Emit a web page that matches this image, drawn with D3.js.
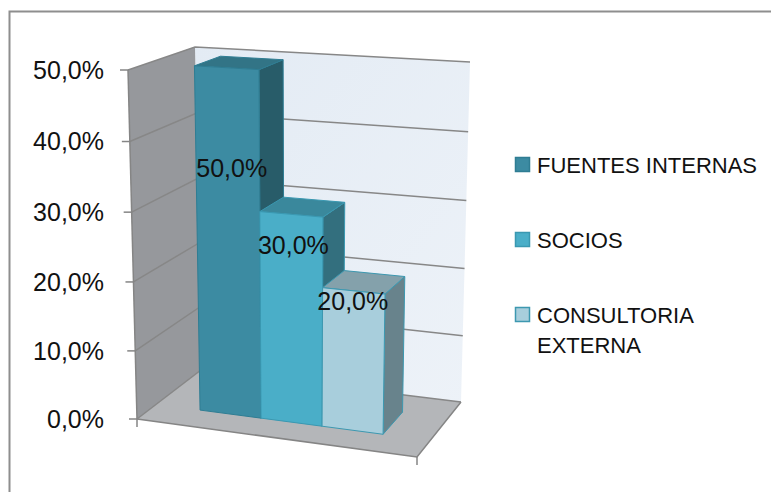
<!DOCTYPE html>
<html>
<head>
<meta charset="utf-8">
<script src="https://cdn.jsdelivr.net/npm/d3@7"></script>
<style>
  html, body { margin: 0; padding: 0; background: #ffffff; }
  svg { display: block; }
  text { font-family: "Liberation Sans", Arial, sans-serif; fill: #111; }
</style>
</head>
<body>
<svg id="chart" width="771" height="492"></svg>
<script>
// ---- data ----
const series = ["FUENTES INTERNAS", "SOCIOS", "CONSULTORIA EXTERNA"];
const values = [0.5, 0.3, 0.2];
const tickValues = [0, 0.1, 0.2, 0.3, 0.4, 0.5];

// ---- styling ----
const palette = {
  front:   ["#3c8ba2", "#4aaec8", "#a8cedc"],
  top:     ["#327486", "#3a889c", "#84a1ab"],
  side:    ["#285c69", "#336f7e", "#68838c"],
  outline: ["#2f7d93", "#3a98b1", "#3d98b0"]
};
// pixel nudges for the value labels, relative to the top-front centre of each bar
const labelNudge = [[5, 101], [2, 31], [-1, 10]];

const es = d3.formatLocale({ decimal: ",", thousands: ".", grouping: [3], currency: ["", " €"] });
const pct = es.format(".1%");

const svg = d3.select("#chart");

// Outer frame
svg.append("rect")
  .attr("x", 9.5).attr("y", 11.5).attr("width", 800).attr("height", 520)
  .attr("fill", "none").attr("stroke", "#8e8e8e").attr("stroke-width", 2);

// ---- 3D plot cube projection ----
// screen corners of the cube: f/b = front/back, l/r = left/right, b/t = bottom/top
const corner = {
  flb: [137, 419], frb: [417, 457], blb: [201, 370], brb: [461, 402],
  flt: [128, 70],  frt: [424, 88],  blt: [195, 47],  brt: [470, 62]
};
const lerp = (a, b, t) => [a[0] + (b[0] - a[0]) * t, a[1] + (b[1] - a[1]) * t];
const bilerp = (fl, fr, bl, br, u, v) => lerp(lerp(fl, fr, u), lerp(bl, br, u), v);
const persp = 0.97;
const heightWarp = w => persp * w / (1 + (persp - 1) * w);
function project(u, v, w) {
  const bottom = bilerp(corner.flb, corner.frb, corner.blb, corner.brb, u, v);
  const top = bilerp(corner.flt, corner.frt, corner.blt, corner.brt, u, v);
  return lerp(bottom, top, heightWarp(w));
}
const poly = pts => "M" + pts.map(p => project(...p).map(n => n.toFixed(2)).join(",")).join("L") + "Z";
const line = pts => "M" + pts.map(p => project(...p).map(n => n.toFixed(2)).join(",")).join("L");

// scales: series -> horizontal cube coordinate, value -> vertical cube coordinate
const x = d3.scaleBand().domain(series).range([0.16, 0.828]).padding(0);
const y = d3.scaleLinear().domain([0, 0.5]).range([0, 1]);
const depth = [0.3, 0.71];

// ---- walls ----
const defs = svg.append("defs");
const bg = defs.append("linearGradient").attr("id", "backWall")
  .attr("x1", "0").attr("y1", "0").attr("x2", "1").attr("y2", "1");
bg.append("stop").attr("offset", "0").attr("stop-color", "#e3ebf4");
bg.append("stop").attr("offset", "1").attr("stop-color", "#edf2f8");

svg.append("path").attr("d", poly([[0, 1, 0], [1, 1, 0], [1, 1, 1], [0, 1, 1]]))
  .attr("fill", "url(#backWall)");
svg.append("path").attr("d", poly([[0, 0, 0], [0, 1, 0], [0, 1, 1], [0, 0, 1]]))
  .attr("fill", "#96989c");
svg.append("path").attr("d", poly([[0, 0, 0], [1, 0, 0], [1, 1, 0], [0, 1, 0]]))
  .attr("fill", "#b4b6b9");

// gridlines across side and back walls
svg.append("g").selectAll("path").data(tickValues).join("path")
  .attr("d", t => line([[0, 0, y(t)], [0, 1, y(t)], [1, 1, y(t)]]))
  .attr("fill", "none").attr("stroke", "#878787").attr("stroke-width", 1.5);

// floor front and right edges (category axis)
svg.append("path").attr("d", line([[0, 0, 0], [1, 0, 0], [1, 1, 0]]))
  .attr("fill", "none").attr("stroke", "#858585").attr("stroke-width", 1.5);
// category axis end ticks
[0, 1].forEach(u => {
  const p = project(u, 0, 0);
  svg.append("line").attr("x1", p[0]).attr("y1", p[1]).attr("x2", p[0]).attr("y2", p[1] + 8)
    .attr("stroke", "#858585").attr("stroke-width", 1.5);
});

// value axis
svg.append("path").attr("d", line([[0, 0, 0], [0, 0, 1]]))
  .attr("fill", "none").attr("stroke", "#858585").attr("stroke-width", 1.5);
const ticks = svg.append("g");
tickValues.forEach(t => {
  const p = project(0, 0, y(t));
  ticks.append("line").attr("x1", p[0] - 8).attr("x2", p[0]).attr("y1", p[1]).attr("y2", p[1])
    .attr("stroke", "#858585").attr("stroke-width", 1.5);
  ticks.append("text").attr("x", 104).attr("y", p[1]).attr("dy", "0.35em")
    .attr("text-anchor", "end").attr("font-size", 25).text(pct(t));
});

// ---- bars ----
const bars = svg.append("g");
series.forEach((s, i) => {
  const u0 = x(s), u1 = x(s) + x.bandwidth();
  const w = y(values[i]);
  const [v0, v1] = depth;
  const g = bars.append("g").attr("stroke", palette.outline[i]).attr("stroke-width", 1).attr("stroke-linejoin", "round");
  g.append("path").attr("d", poly([[u1, v0, 0], [u1, v1, 0], [u1, v1, w], [u1, v0, w]])).attr("fill", palette.side[i]);
  g.append("path").attr("d", poly([[u0, v0, w], [u1, v0, w], [u1, v1, w], [u0, v1, w]])).attr("fill", palette.top[i]);
  g.append("path").attr("d", poly([[u0, v0, 0], [u1, v0, 0], [u1, v0, w], [u0, v0, w]])).attr("fill", palette.front[i]);
});

// value labels
series.forEach((s, i) => {
  const p = project(x(s) + x.bandwidth() / 2, depth[0], y(values[i]));
  svg.append("text")
    .attr("x", p[0] + labelNudge[i][0]).attr("y", p[1] + labelNudge[i][1]).attr("dy", "0.35em")
    .attr("text-anchor", "middle").attr("font-size", 25).text(pct(values[i]));
});

// ---- legend ----
const legend = svg.append("g").attr("transform", "translate(515,0)");
const legendY = d3.scalePoint().domain(series).range([173, 323]);
series.forEach((s, i) => {
  const by = legendY(s);
  legend.append("rect").attr("x", 0.5).attr("y", by - 15.5).attr("width", 14).attr("height", 14)
    .attr("fill", palette.front[i]).attr("stroke", palette.outline[i]).attr("stroke-width", 1.5);
  const txt = legend.append("text").attr("x", 22).attr("y", by).attr("font-size", 22);
  // wrap long names onto extra lines
  const words = s.split(" ");
  let lineWords = [], tspan = txt.append("tspan").attr("x", 22).attr("dy", 0);
  words.forEach(word => {
    lineWords.push(word);
    tspan.text(lineWords.join(" "));
    if (tspan.node().getComputedTextLength() > 235 && lineWords.length > 1) {
      lineWords.pop();
      tspan.text(lineWords.join(" "));
      lineWords = [word];
      tspan = txt.append("tspan").attr("x", 22).attr("dy", 30).text(word);
    }
  });
});
</script>
</body>
</html>
